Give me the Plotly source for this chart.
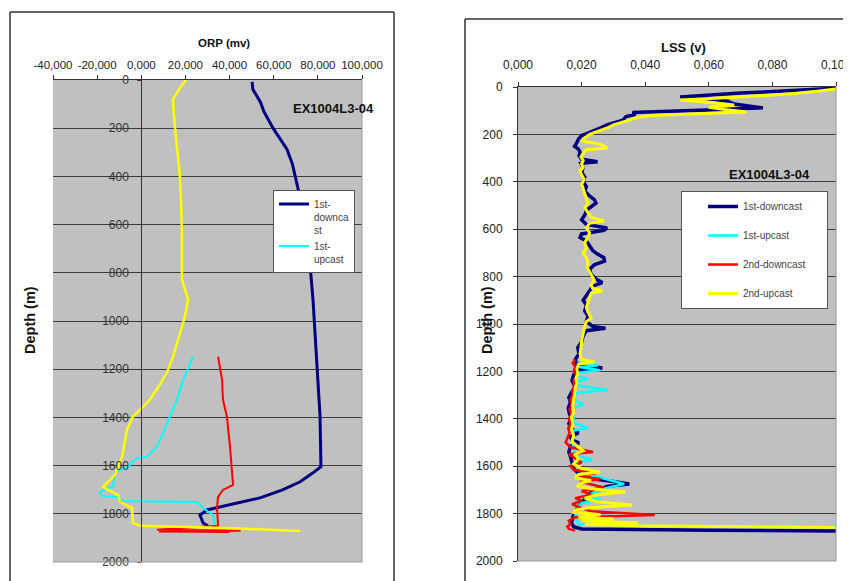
import plotly.graph_objects as go

# page body adds an 8px margin around the figure; compensate
OFF = 8
W, H = 851 - OFF, 581 - OFF

# ---------------- ORP (left chart) ----------------
orp_d_down1 = [8, 40, 92, 130, 200, 250, 287, 350, 453, 550, 650, 761, 911, 1050, 1189, 1300, 1397, 1500, 1605, 1630, 1667, 1701, 1734, 1759, 1784, 1805, 1838, 1850]
orp_down1 = [50.2, 50.6, 54.0, 55.5, 59.7, 63.5, 66.0, 68.5, 71.0, 73.5, 75.0, 76.4, 77.8, 78.8, 79.6, 80.3, 81.0, 81.2, 81.4, 77.8, 72.0, 64.0, 53.8, 41.5, 29.8, 26.6, 28.0, 30.2]

orp_d_up1 = [1148, 1243, 1326, 1397, 1460, 1522, 1563, 1568, 1590, 1609, 1626, 1660, 1688, 1701, 1713, 1726, 1730, 1747, 1751, 1776, 1805, 1850]
orp_up1 = [23.4, 19.0, 16.2, 13.0, 10.0, 7.1, 2.6, -2.0, -4.5, -6.5, -11.9, -12.5, -12.8, -17.3, -18.7, -17.8, -11.0, -8.7, 25.2, 28.0, 32.5, 33.4]

orp_d_down2 = [1148, 1243, 1326, 1397, 1522, 1680, 1701, 1730, 1772, 1850, 1866, 1870, 1873, 1876]
orp_down2 = [34.8, 36.6, 37.0, 38.8, 40.2, 41.6, 37.0, 34.8, 34.3, 34.8, 7.1, 45.0, 8.0, 40.0]

orp_d_up2 = [0, 40, 79, 100, 200, 300, 400, 500, 633, 750, 828, 870, 911, 981, 1048, 1148, 1214, 1270, 1326, 1339, 1397, 1451, 1563, 1638, 1659, 1680, 1688, 1701, 1722, 1751, 1776, 1838, 1850, 1859, 1871]
orp_up2 = [20.3, 17.0, 14.4, 14.4, 15.3, 16.5, 17.5, 18.0, 18.4, 18.4, 18.4, 19.8, 21.2, 19.8, 17.5, 14.4, 11.6, 8.0, 3.9, 2.6, -3.8, -6.5, -8.7, -11.9, -14.2, -16.5, -17.3, -15.0, -10.5, -9.6, -4.2, -3.8, -0.6, 38.8, 72.0]

# ---------------- LSS (right chart) ----------------
lss_d_down1 = [5, 15, 20, 25, 32, 42, 50, 60, 72, 80, 88, 95, 103, 108, 115, 125, 140, 150, 160, 172, 185, 195, 205, 220, 235, 250, 262, 275, 290, 305, 315, 322, 340, 360, 380, 400, 420, 440, 460, 475, 490, 505, 520, 540, 560, 580, 595, 605, 620, 635, 650, 670, 690, 705, 720, 735, 750, 770, 790, 810, 825, 840, 860, 880, 900, 920, 945, 965, 990, 1010, 1018, 1028, 1050, 1075, 1100, 1125, 1150, 1170, 1186, 1195, 1215, 1240, 1265, 1290, 1310, 1330, 1355, 1380, 1400, 1420, 1440, 1460, 1475, 1490, 1502, 1515, 1540, 1560, 1585, 1610, 1630, 1650, 1665, 1675, 1685, 1700, 1715, 1726, 1740, 1760, 1780, 1800, 1820, 1840, 1855, 1865, 1870, 1872, 1873]
lss_down1 = [0.100, 0.088, 0.079, 0.070, 0.062, 0.051, 0.060, 0.066, 0.068, 0.073, 0.077, 0.064, 0.048, 0.036, 0.037, 0.034, 0.033, 0.030, 0.028, 0.026, 0.024, 0.022, 0.020, 0.019, 0.0185, 0.0178, 0.0190, 0.0195, 0.0192, 0.0200, 0.0250, 0.0198, 0.0205, 0.0200, 0.0210, 0.0205, 0.0215, 0.0210, 0.0225, 0.0240, 0.0245, 0.0230, 0.0215, 0.0210, 0.0200, 0.0215, 0.0280, 0.0270, 0.0200, 0.0195, 0.0215, 0.0225, 0.0235, 0.0250, 0.0270, 0.0272, 0.0240, 0.0225, 0.0230, 0.0245, 0.0265, 0.0235, 0.0225, 0.0215, 0.0205, 0.0215, 0.0210, 0.0220, 0.0215, 0.0235, 0.0275, 0.0215, 0.0205, 0.0200, 0.0188, 0.0192, 0.0180, 0.0185, 0.0265, 0.0185, 0.0175, 0.0170, 0.0180, 0.0168, 0.0160, 0.0165, 0.0158, 0.0162, 0.0170, 0.0160, 0.0165, 0.0190, 0.0165, 0.0170, 0.0192, 0.0165, 0.0160, 0.0165, 0.0170, 0.0175, 0.0190, 0.0215, 0.0300, 0.0350, 0.0280, 0.0250, 0.0225, 0.0233, 0.0210, 0.0195, 0.0185, 0.0175, 0.0172, 0.0168, 0.0175, 0.0200, 0.0600, 0.0900, 0.1000]

lss_d_up1 = [1165, 1175, 1182, 1195, 1205, 1220, 1232, 1245, 1260, 1278, 1290, 1305, 1320, 1340, 1355, 1375, 1395, 1415, 1439, 1450, 1470, 1490, 1510, 1530, 1550, 1574, 1585, 1600, 1615, 1630, 1645, 1660, 1675, 1685, 1695, 1710, 1725, 1740, 1755, 1770, 1790, 1810, 1830, 1845, 1852, 1854]
lss_up1 = [0.0200, 0.0250, 0.0195, 0.0258, 0.0190, 0.0185, 0.0220, 0.0185, 0.0190, 0.0283, 0.0185, 0.0180, 0.0178, 0.0205, 0.0175, 0.0172, 0.0175, 0.0170, 0.0220, 0.0172, 0.0175, 0.0170, 0.0172, 0.0175, 0.0180, 0.0233, 0.0180, 0.0185, 0.0200, 0.0210, 0.0250, 0.0290, 0.0334, 0.0300, 0.0270, 0.0240, 0.0215, 0.0260, 0.0200, 0.0190, 0.0185, 0.0180, 0.0185, 0.0190, 0.0425, 0.1000]

lss_d_down2 = [1150, 1165, 1180, 1200, 1220, 1240, 1260, 1280, 1300, 1320, 1340, 1360, 1380, 1400, 1420, 1440, 1460, 1480, 1500, 1520, 1540, 1550, 1570, 1585, 1600, 1615, 1630, 1640, 1655, 1665, 1690, 1705, 1720, 1735, 1745, 1760, 1775, 1790, 1806, 1815, 1830, 1845, 1855, 1865, 1872]
lss_down2 = [0.0180, 0.0172, 0.0180, 0.0175, 0.0185, 0.0175, 0.0178, 0.0170, 0.0172, 0.0165, 0.0170, 0.0162, 0.0168, 0.0160, 0.0165, 0.0158, 0.0162, 0.0155, 0.0150, 0.0165, 0.0236, 0.0160, 0.0185, 0.0200, 0.0165, 0.0175, 0.0245, 0.0190, 0.0260, 0.0195, 0.0270, 0.0200, 0.0230, 0.0180, 0.0200, 0.0170, 0.0195, 0.0230, 0.0430, 0.0180, 0.0160, 0.0165, 0.0155, 0.0160, 0.0180]

lss_d_up2 = [8, 18, 28, 34, 45, 55, 62, 70, 76, 85, 95, 105, 112, 120, 127, 135, 148, 160, 170, 180, 190, 200, 215, 228, 240, 248, 257, 265, 280, 295, 310, 325, 340, 355, 370, 390, 410, 430, 450, 470, 490, 510, 530, 550, 565, 575, 595, 615, 635, 655, 680, 700, 720, 740, 760, 780, 800, 815, 835, 850, 860, 870, 890, 910, 930, 950, 975, 990, 1010, 1040, 1070, 1100, 1125, 1150, 1160, 1170, 1190, 1210, 1230, 1250, 1270, 1295, 1320, 1345, 1370, 1395, 1420, 1445, 1470, 1495, 1520, 1535, 1550, 1570, 1590, 1610, 1624, 1635, 1650, 1660, 1670, 1685, 1695, 1709, 1720, 1735, 1750, 1764, 1775, 1785, 1795, 1805, 1815, 1822, 1830, 1840, 1846, 1852, 1856, 1858]
lss_up2 = [0.1000, 0.0940, 0.0860, 0.0800, 0.0650, 0.0510, 0.0580, 0.0640, 0.0680, 0.0600, 0.0650, 0.0720, 0.0560, 0.0420, 0.0380, 0.0360, 0.0330, 0.0300, 0.0285, 0.0265, 0.0245, 0.0225, 0.0210, 0.0200, 0.0255, 0.0270, 0.0280, 0.0215, 0.0205, 0.0198, 0.0205, 0.0200, 0.0205, 0.0195, 0.0200, 0.0208, 0.0200, 0.0205, 0.0210, 0.0215, 0.0220, 0.0210, 0.0220, 0.0230, 0.0270, 0.0225, 0.0215, 0.0225, 0.0220, 0.0210, 0.0215, 0.0205, 0.0215, 0.0220, 0.0217, 0.0225, 0.0235, 0.0240, 0.0230, 0.0235, 0.0265, 0.0230, 0.0225, 0.0220, 0.0215, 0.0220, 0.0230, 0.0215, 0.0210, 0.0205, 0.0200, 0.0198, 0.0195, 0.0200, 0.0240, 0.0190, 0.0185, 0.0188, 0.0182, 0.0185, 0.0180, 0.0178, 0.0175, 0.0172, 0.0175, 0.0168, 0.0172, 0.0168, 0.0175, 0.0170, 0.0190, 0.0205, 0.0180, 0.0190, 0.0175, 0.0200, 0.0258, 0.0190, 0.0180, 0.0230, 0.0200, 0.0185, 0.0230, 0.0337, 0.0250, 0.0210, 0.0250, 0.0358, 0.0220, 0.0180, 0.0175, 0.0260, 0.0190, 0.0300, 0.0200, 0.0377, 0.0210, 0.0425, 0.0800, 0.1000]

series_names = ["1st-downcast", "1st-upcast", "2nd-downcast", "2nd-upcast"]
left_legend_names = ["1st-<br>downca<br>st", "1st-<br>upcast"]
colors = ["#000080", "#00FFFF", "#FF0000", "#FFFF00"]
widths = [3, 2, 2, 2.5]

y_ticks = [0, 200, 400, 600, 800, 1000, 1200, 1400, 1600, 1800, 2000]
orp_ticks = [-40, -20, 0, 20, 40, 60, 80, 100]
orp_tick_labels = ["-40,000", "-20,000", "0,000", "20,000", "40,000", "60,000", "80,000", "100,000"]
lss_ticks = [0.0, 0.02, 0.04, 0.06, 0.08, 0.1]
lss_tick_labels = ["0,000", "0,020", "0,040", "0,060", "0,080", "0,100"]

def fx(px):
    return (px - OFF) / W

def fy(py):
    return 1 - (py - OFF) / H

FONT = "Liberation Sans, Arial, sans-serif"
NBSP = "\u00a0"

fig = go.Figure()

orp_x = [orp_down1, orp_up1, orp_down2, orp_up2]
orp_y = [orp_d_down1, orp_d_up1, orp_d_down2, orp_d_up2]
for i in range(4):
    fig.add_trace(go.Scatter(
        x=orp_x[i], y=orp_y[i], mode="lines",
        name=left_legend_names[i] if i < 2 else series_names[i],
        line=dict(color=colors[i], width=widths[i]),
        showlegend=(i < 2), legend="legend",
        legendgroup="L%d" % i,
        xaxis="x", yaxis="y"))

lss_x = [lss_down1, lss_up1, lss_down2, lss_up2]
lss_y = [lss_d_down1, lss_d_up1, lss_d_down2, lss_d_up2]
for i in range(4):
    # pad the widest entry so the legend box gets the reference width
    nm = series_names[i] + (NBSP * 6 if i == 2 else "")
    fig.add_trace(go.Scatter(
        x=lss_x[i], y=lss_y[i], mode="lines",
        name=nm,
        line=dict(color=colors[i], width=widths[i] + 0.5),
        showlegend=True, legend="legend2",
        legendgroup="R%d" % i,
        xaxis="x2", yaxis="y2"))

# plot geometry (pixels in the 851x581 window)
L_x0, L_x1, L_y0, L_y1 = 53, 362, 80, 562
R_x0, R_x1, R_y0, R_y1 = 518, 836, 87, 561
zero_px = L_x0 + (0 - orp_ticks[0]) / (orp_ticks[-1] - orp_ticks[0]) * (L_x1 - L_x0)

axis_common = dict(showline=True, linecolor="#333333", linewidth=1,
                   ticks="outside", ticklen=4, tickcolor="#333333",
                   zeroline=False, automargin=False, tickangle=0,
                   ticklabeloverflow="allow")

fig.update_layout(
    width=W, height=H, autosize=False,
    margin=dict(l=0, r=0, t=0, b=0, pad=0, autoexpand=False),
    paper_bgcolor="white", plot_bgcolor="#C0C0C0",
    font=dict(family=FONT, size=12, color="#222222"),
    xaxis=dict(domain=[fx(L_x0), fx(L_x1)], range=[orp_ticks[0], orp_ticks[-1]],
               side="top", anchor="y", tickvals=orp_ticks, ticktext=orp_tick_labels,
               showgrid=False, tickfont=dict(size=11.5), ticklabelstandoff=1,
               **axis_common),
    yaxis=dict(domain=[fy(L_y1), fy(L_y0)], range=[2000, 0], autorange=False,
               anchor="free", position=fx(zero_px), tickvals=y_ticks,
               showgrid=True, gridcolor="#3c3c3c", gridwidth=1,
               tickfont=dict(size=12, color="#333333"), ticklabelstandoff=6,
               **axis_common),
    xaxis2=dict(domain=[fx(R_x0), fx(R_x1)], range=[lss_ticks[0], lss_ticks[-1]],
                side="top", anchor="y2", tickvals=lss_ticks, ticktext=lss_tick_labels,
                showgrid=False, tickfont=dict(size=12), ticklabelstandoff=8,
                **axis_common),
    yaxis2=dict(domain=[fy(R_y1), fy(R_y0)], range=[2000, 0], autorange=False,
                anchor="x2", tickvals=y_ticks,
                showgrid=True, gridcolor="#3c3c3c", gridwidth=1,
                tickfont=dict(size=12), ticklabelstandoff=8,
                **axis_common),
    legend=dict(x=fx(273), y=fy(190), xanchor="left", yanchor="top",
                bgcolor="white", bordercolor="#555555", borderwidth=1,
                font=dict(size=10, color="#444444"), valign="top",
                traceorder="grouped", tracegroupgap=0),
    legend2=dict(x=fx(681), y=fy(191), xanchor="left", yanchor="top",
                 bgcolor="white", bordercolor="#555555", borderwidth=1,
                 font=dict(size=10, color="#444444"), indentation=21,
                 traceorder="grouped", tracegroupgap=10),
)

# plot-area gray borders (right & bottom)
for xr, yr in (("x domain", "y domain"), ("x2 domain", "y2 domain")):
    fig.add_shape(type="line", xref=xr, yref=yr, x0=1, x1=1, y0=0, y1=1,
                  line=dict(color="#999999", width=1))
    fig.add_shape(type="line", xref=xr, yref=yr, x0=0, x1=1, y0=0, y1=0,
                  line=dict(color="#999999", width=1))

# outer chart frames
frame = dict(color="#333333", width=1.5)
fig.add_shape(type="line", xref="paper", yref="paper", x0=fx(10), x1=fx(394), y0=fy(12), y1=fy(12), line=frame)
fig.add_shape(type="line", xref="paper", yref="paper", x0=fx(10), x1=fx(10), y0=fy(12), y1=0, line=frame)
fig.add_shape(type="line", xref="paper", yref="paper", x0=fx(394), x1=fx(394), y0=fy(12), y1=0, line=frame)
fig.add_shape(type="line", xref="paper", yref="paper", x0=fx(465), x1=1, y0=fy(19), y1=fy(19), line=frame)
fig.add_shape(type="line", xref="paper", yref="paper", x0=fx(465), x1=fx(465), y0=fy(19), y1=0, line=frame)

bold = dict(family=FONT, color="#111111")
ann = [
    dict(text="<b>ORP (mv)</b>", x=fx(224), y=fy(43), font=dict(size=11.5, **bold)),
    dict(text="<b>LSS (v)</b>", x=fx(683), y=fy(47), font=dict(size=13, **bold)),
    dict(text="<b>Depth (m)</b>", x=fx(30), y=fy(320), textangle=-90, font=dict(size=14.5, **bold)),
    dict(text="<b>Depth (m)</b>", x=fx(487), y=fy(320), textangle=-90, font=dict(size=14.5, **bold)),
    dict(text="<b>EX1004L3-04</b>", x=fx(333), y=fy(109), font=dict(size=13, **bold)),
    dict(text="<b>EX1004L3-04</b>", x=fx(769), y=fy(174), font=dict(size=13, **bold)),
]
for a in ann:
    fig.add_annotation(xref="paper", yref="paper", showarrow=False,
                       xanchor="center", yanchor="middle", **a)

fig.write_html("out.html")
